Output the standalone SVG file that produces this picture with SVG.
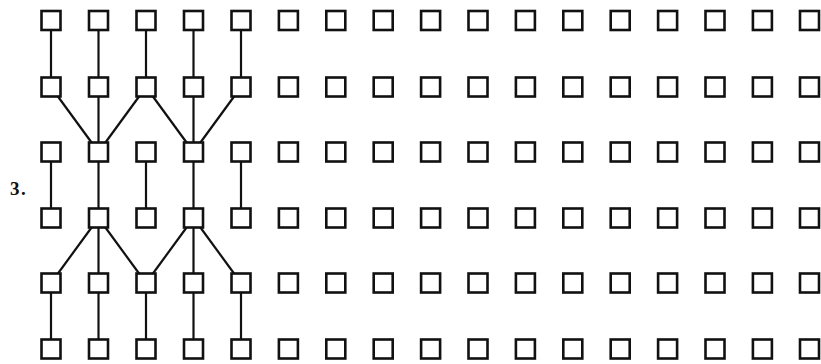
<svg xmlns="http://www.w3.org/2000/svg" width="821" height="364" viewBox="0 0 821 364">
<style>
.n{fill:#fff;stroke:#111;stroke-width:2.6}
#connectors line{stroke:#111;stroke-width:2.2}
.lbl{font-family:"Liberation Serif",serif;font-weight:bold;font-size:19px;fill:#111;letter-spacing:1.5px}
</style>
<defs>
<rect id="b" x="-9.5" y="-9.5" width="19" height="19"/>
</defs>
<rect width="821" height="364" fill="#fff"/>
<text class="lbl" x="10" y="195">3.</text>
<g id="connectors">
<line x1="51" y1="20.5" x2="51" y2="87"/>
<line x1="98.5" y1="20.5" x2="98.5" y2="87"/>
<line x1="146" y1="20.5" x2="146" y2="87"/>
<line x1="193.5" y1="20.5" x2="193.5" y2="87"/>
<line x1="241" y1="20.5" x2="241" y2="87"/>
<line x1="51" y1="87" x2="98.5" y2="152"/>
<line x1="98.5" y1="87" x2="98.5" y2="152"/>
<line x1="146" y1="87" x2="98.5" y2="152"/>
<line x1="146" y1="87" x2="193.5" y2="152"/>
<line x1="193.5" y1="87" x2="193.5" y2="152"/>
<line x1="241" y1="87" x2="193.5" y2="152"/>
<line x1="51" y1="152" x2="51" y2="218"/>
<line x1="98.5" y1="152" x2="98.5" y2="218"/>
<line x1="146" y1="152" x2="146" y2="218"/>
<line x1="193.5" y1="152" x2="193.5" y2="218"/>
<line x1="241" y1="152" x2="241" y2="218"/>
<line x1="98.5" y1="218" x2="51" y2="283"/>
<line x1="98.5" y1="218" x2="98.5" y2="283"/>
<line x1="98.5" y1="218" x2="146" y2="283"/>
<line x1="193.5" y1="218" x2="146" y2="283"/>
<line x1="193.5" y1="218" x2="193.5" y2="283"/>
<line x1="193.5" y1="218" x2="241" y2="283"/>
<line x1="51" y1="283" x2="51" y2="349"/>
<line x1="98.5" y1="283" x2="98.5" y2="349"/>
<line x1="146" y1="283" x2="146" y2="349"/>
<line x1="193.5" y1="283" x2="193.5" y2="349"/>
<line x1="241" y1="283" x2="241" y2="349"/>
</g>
<g id="row1" class="n">
<g id="n1-1"><use href="#b" x="51" y="20.5"/></g><g id="n1-2"><use href="#b" x="98.5" y="20.5"/></g><g id="n1-3"><use href="#b" x="146" y="20.5"/></g><g id="n1-4"><use href="#b" x="193.5" y="20.5"/></g><g id="n1-5"><use href="#b" x="241" y="20.5"/></g><g id="n1-6"><use href="#b" x="288.4" y="20.5"/></g><g id="n1-7"><use href="#b" x="335.8" y="20.5"/></g><g id="n1-8"><use href="#b" x="383.2" y="20.5"/></g><g id="n1-9"><use href="#b" x="430.6" y="20.5"/></g><g id="n1-10"><use href="#b" x="478" y="20.5"/></g><g id="n1-11"><use href="#b" x="525.4" y="20.5"/></g><g id="n1-12"><use href="#b" x="572.8" y="20.5"/></g><g id="n1-13"><use href="#b" x="620.2" y="20.5"/></g><g id="n1-14"><use href="#b" x="667.6" y="20.5"/></g><g id="n1-15"><use href="#b" x="715" y="20.5"/></g><g id="n1-16"><use href="#b" x="762.4" y="20.5"/></g><g id="n1-17"><use href="#b" x="809.5" y="20.5"/></g>
</g>
<g id="row2" class="n">
<g id="n2-1"><use href="#b" x="51" y="87"/></g><g id="n2-2"><use href="#b" x="98.5" y="87"/></g><g id="n2-3"><use href="#b" x="146" y="87"/></g><g id="n2-4"><use href="#b" x="193.5" y="87"/></g><g id="n2-5"><use href="#b" x="241" y="87"/></g><g id="n2-6"><use href="#b" x="288.4" y="87"/></g><g id="n2-7"><use href="#b" x="335.8" y="87"/></g><g id="n2-8"><use href="#b" x="383.2" y="87"/></g><g id="n2-9"><use href="#b" x="430.6" y="87"/></g><g id="n2-10"><use href="#b" x="478" y="87"/></g><g id="n2-11"><use href="#b" x="525.4" y="87"/></g><g id="n2-12"><use href="#b" x="572.8" y="87"/></g><g id="n2-13"><use href="#b" x="620.2" y="87"/></g><g id="n2-14"><use href="#b" x="667.6" y="87"/></g><g id="n2-15"><use href="#b" x="715" y="87"/></g><g id="n2-16"><use href="#b" x="762.4" y="87"/></g><g id="n2-17"><use href="#b" x="809.5" y="87"/></g>
</g>
<g id="row3" class="n">
<g id="n3-1"><use href="#b" x="51" y="152"/></g><g id="n3-2"><use href="#b" x="98.5" y="152"/></g><g id="n3-3"><use href="#b" x="146" y="152"/></g><g id="n3-4"><use href="#b" x="193.5" y="152"/></g><g id="n3-5"><use href="#b" x="241" y="152"/></g><g id="n3-6"><use href="#b" x="288.4" y="152"/></g><g id="n3-7"><use href="#b" x="335.8" y="152"/></g><g id="n3-8"><use href="#b" x="383.2" y="152"/></g><g id="n3-9"><use href="#b" x="430.6" y="152"/></g><g id="n3-10"><use href="#b" x="478" y="152"/></g><g id="n3-11"><use href="#b" x="525.4" y="152"/></g><g id="n3-12"><use href="#b" x="572.8" y="152"/></g><g id="n3-13"><use href="#b" x="620.2" y="152"/></g><g id="n3-14"><use href="#b" x="667.6" y="152"/></g><g id="n3-15"><use href="#b" x="715" y="152"/></g><g id="n3-16"><use href="#b" x="762.4" y="152"/></g><g id="n3-17"><use href="#b" x="809.5" y="152"/></g>
</g>
<g id="row4" class="n">
<g id="n4-1"><use href="#b" x="51" y="218"/></g><g id="n4-2"><use href="#b" x="98.5" y="218"/></g><g id="n4-3"><use href="#b" x="146" y="218"/></g><g id="n4-4"><use href="#b" x="193.5" y="218"/></g><g id="n4-5"><use href="#b" x="241" y="218"/></g><g id="n4-6"><use href="#b" x="288.4" y="218"/></g><g id="n4-7"><use href="#b" x="335.8" y="218"/></g><g id="n4-8"><use href="#b" x="383.2" y="218"/></g><g id="n4-9"><use href="#b" x="430.6" y="218"/></g><g id="n4-10"><use href="#b" x="478" y="218"/></g><g id="n4-11"><use href="#b" x="525.4" y="218"/></g><g id="n4-12"><use href="#b" x="572.8" y="218"/></g><g id="n4-13"><use href="#b" x="620.2" y="218"/></g><g id="n4-14"><use href="#b" x="667.6" y="218"/></g><g id="n4-15"><use href="#b" x="715" y="218"/></g><g id="n4-16"><use href="#b" x="762.4" y="218"/></g><g id="n4-17"><use href="#b" x="809.5" y="218"/></g>
</g>
<g id="row5" class="n">
<g id="n5-1"><use href="#b" x="51" y="283"/></g><g id="n5-2"><use href="#b" x="98.5" y="283"/></g><g id="n5-3"><use href="#b" x="146" y="283"/></g><g id="n5-4"><use href="#b" x="193.5" y="283"/></g><g id="n5-5"><use href="#b" x="241" y="283"/></g><g id="n5-6"><use href="#b" x="288.4" y="283"/></g><g id="n5-7"><use href="#b" x="335.8" y="283"/></g><g id="n5-8"><use href="#b" x="383.2" y="283"/></g><g id="n5-9"><use href="#b" x="430.6" y="283"/></g><g id="n5-10"><use href="#b" x="478" y="283"/></g><g id="n5-11"><use href="#b" x="525.4" y="283"/></g><g id="n5-12"><use href="#b" x="572.8" y="283"/></g><g id="n5-13"><use href="#b" x="620.2" y="283"/></g><g id="n5-14"><use href="#b" x="667.6" y="283"/></g><g id="n5-15"><use href="#b" x="715" y="283"/></g><g id="n5-16"><use href="#b" x="762.4" y="283"/></g><g id="n5-17"><use href="#b" x="809.5" y="283"/></g>
</g>
<g id="row6" class="n">
<g id="n6-1"><use href="#b" x="51" y="349"/></g><g id="n6-2"><use href="#b" x="98.5" y="349"/></g><g id="n6-3"><use href="#b" x="146" y="349"/></g><g id="n6-4"><use href="#b" x="193.5" y="349"/></g><g id="n6-5"><use href="#b" x="241" y="349"/></g><g id="n6-6"><use href="#b" x="288.4" y="349"/></g><g id="n6-7"><use href="#b" x="335.8" y="349"/></g><g id="n6-8"><use href="#b" x="383.2" y="349"/></g><g id="n6-9"><use href="#b" x="430.6" y="349"/></g><g id="n6-10"><use href="#b" x="478" y="349"/></g><g id="n6-11"><use href="#b" x="525.4" y="349"/></g><g id="n6-12"><use href="#b" x="572.8" y="349"/></g><g id="n6-13"><use href="#b" x="620.2" y="349"/></g><g id="n6-14"><use href="#b" x="667.6" y="349"/></g><g id="n6-15"><use href="#b" x="715" y="349"/></g><g id="n6-16"><use href="#b" x="762.4" y="349"/></g><g id="n6-17"><use href="#b" x="809.5" y="349"/></g>
</g>
</svg>
